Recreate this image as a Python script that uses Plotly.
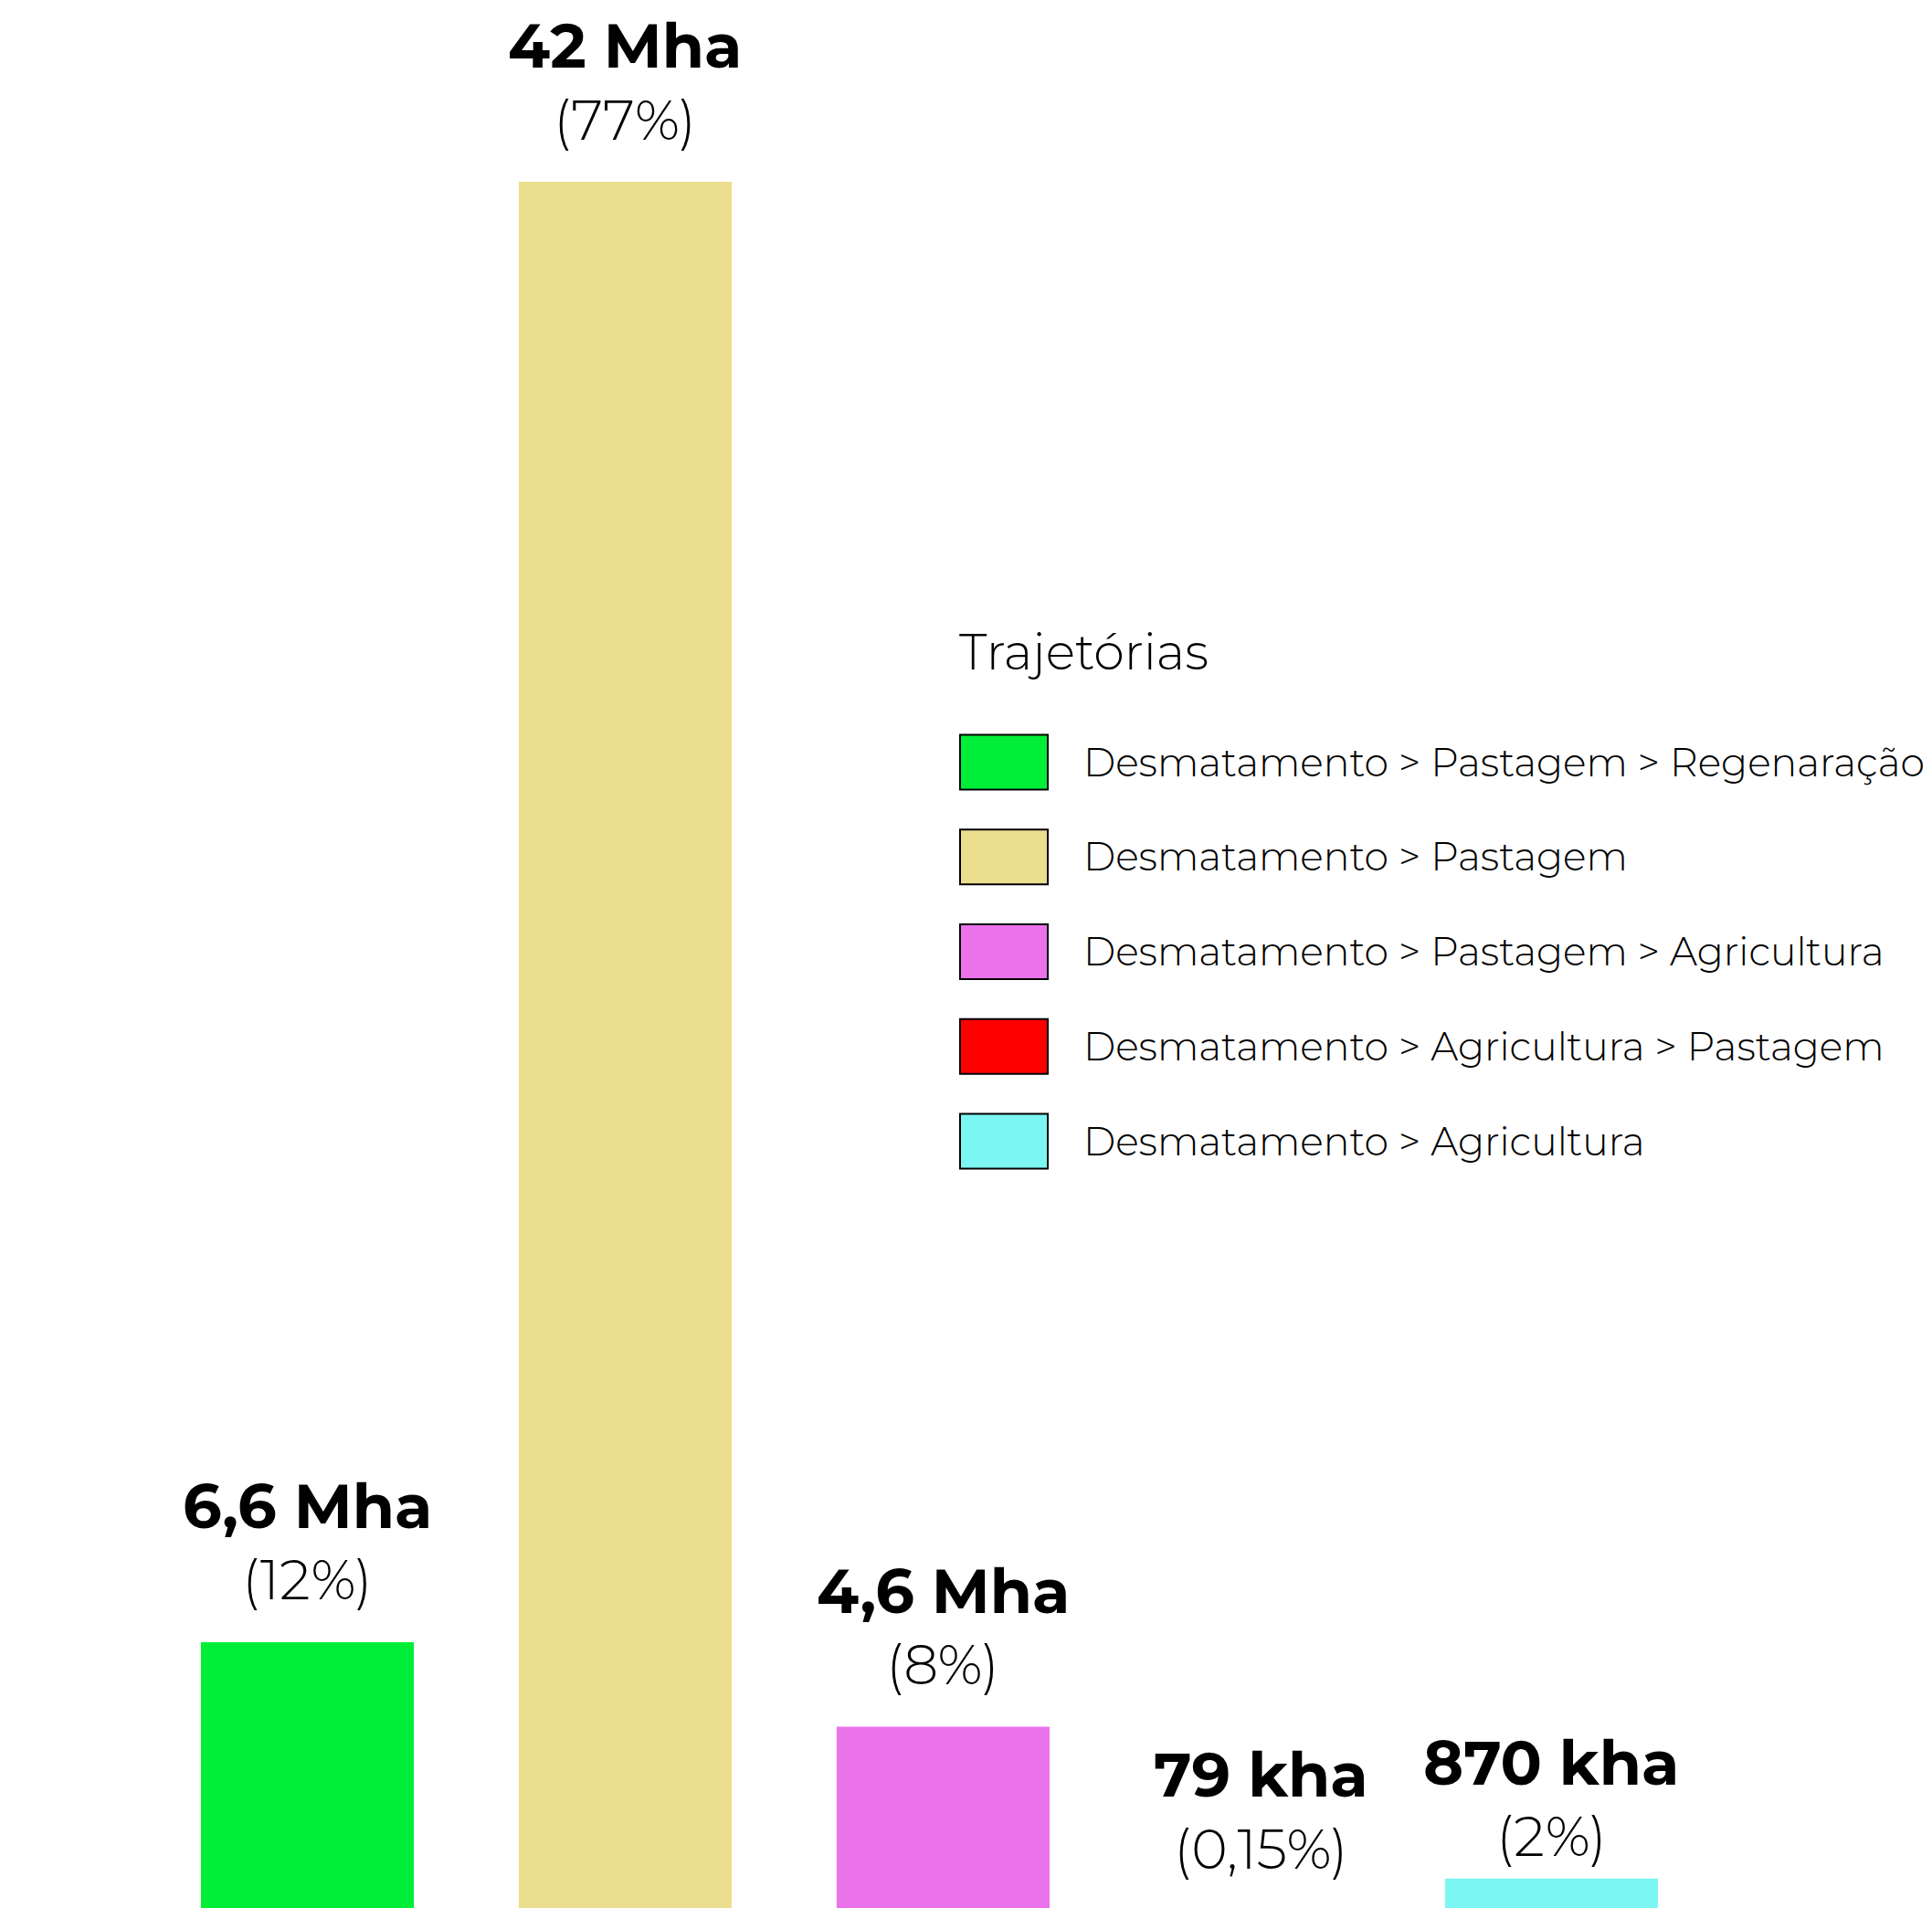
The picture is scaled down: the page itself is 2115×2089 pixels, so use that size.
import plotly.graph_objects as go

# ---------------- data ----------------
categories = [
    "Desmatamento > Pastagem > Regenaração",
    "Desmatamento > Pastagem",
    "Desmatamento > Pastagem > Agricultura",
    "Desmatamento > Agricultura > Pastagem",
    "Desmatamento > Agricultura",
]
area_mha = [6.6, 42.0, 4.55, 0.079, 0.87]
area_labels = ["6,6 Mha", "42 Mha", "4,6 Mha", "79 kha", "870 kha"]
share_labels = ["(12%)", "(77%)", "(8%)", "(0,15%)", "(2%)"]
colors = ["#00ee38", "#ecde8f", "#ea73ec", "#ff0000", "#7cf6f2"]
legend_title = "Trajetórias"

# ---------------- layout / style ----------------
W, H = 2115, 2089
Y_RANGE = [0, 46.23]
X_RANGE = [-0.944, 5.134]
BAR_W = 0.67
bar_offsets = [-BAR_W / 2] * 4 + [-BAR_W / 2 - 0.086]
label_dy = [0, 0, 0, 0, -22]

FONT = "Montserrat, 'Open Sans', sans-serif"
BOLD_SIZE = 67
LIGHT_SIZE = 60
LEG_SIZE = 42.6
TITLE_SIZE = 54

fig = go.Figure(
    go.Bar(
        x=categories,
        y=area_mha,
        marker=dict(color=colors, line=dict(width=0)),
        width=[BAR_W] * len(categories),
        offset=bar_offsets,
        showlegend=False,
        hoverinfo="skip",
    )
)

annotations = []
for i, cat in enumerate(categories):
    xcenter = i + bar_offsets[i] + BAR_W / 2
    annotations.append(dict(
        x=xcenter, xref="x", y=area_mha[i], yref="y",
        text=area_labels[i], showarrow=False, xanchor="center", yanchor="middle",
        yshift=149 + label_dy[i],
        font=dict(family=FONT, size=BOLD_SIZE, color="black", weight=700),
    ))
    annotations.append(dict(
        x=xcenter, xref="x", y=area_mha[i], yref="y",
        text=share_labels[i], showarrow=False, xanchor="center", yanchor="middle",
        yshift=68 + label_dy[i],
        font=dict(family=FONT, size=LIGHT_SIZE, color="black", weight=300),
    ))

# custom legend (pixel positions inside the figure)
LEG_X = 1043
TITLE_X = 1040
SW_W, SW_H = 96, 60
TEXT_X = 1176
ROW0 = 827
ROW_STEP = 103.8
TITLE_Y = 706

shapes = []
annotations.append(dict(
    x=TITLE_X / W, xref="paper", y=1 - TITLE_Y / H, yref="paper",
    text=legend_title, showarrow=False, xanchor="left", yanchor="middle",
    font=dict(family=FONT, size=TITLE_SIZE, color="black", weight=300),
))
for i, cat in enumerate(categories):
    cy = ROW0 + i * ROW_STEP
    shapes.append(dict(
        type="rect", xref="paper", yref="paper",
        x0=LEG_X / W, x1=(LEG_X + SW_W) / W,
        y0=1 - (cy - SW_H / 2) / H, y1=1 - (cy + SW_H / 2) / H,
        fillcolor=colors[i], line=dict(color="black", width=2),
    ))
    annotations.append(dict(
        x=TEXT_X / W, xref="paper", y=1 - cy / H, yref="paper",
        text=cat, showarrow=False, xanchor="left", yanchor="middle",
        font=dict(family=FONT, size=LEG_SIZE, color="black", weight=300),
    ))

fig.update_layout(
    width=W, height=H,
    margin=dict(l=0, r=0, t=0, b=1, pad=0),
    paper_bgcolor="white", plot_bgcolor="white",
    xaxis=dict(type="category", range=X_RANGE, visible=False, fixedrange=True),
    yaxis=dict(range=Y_RANGE, visible=False, fixedrange=True),
    annotations=annotations,
    shapes=shapes,
    showlegend=False,
)

fig.write_html("out.html")
